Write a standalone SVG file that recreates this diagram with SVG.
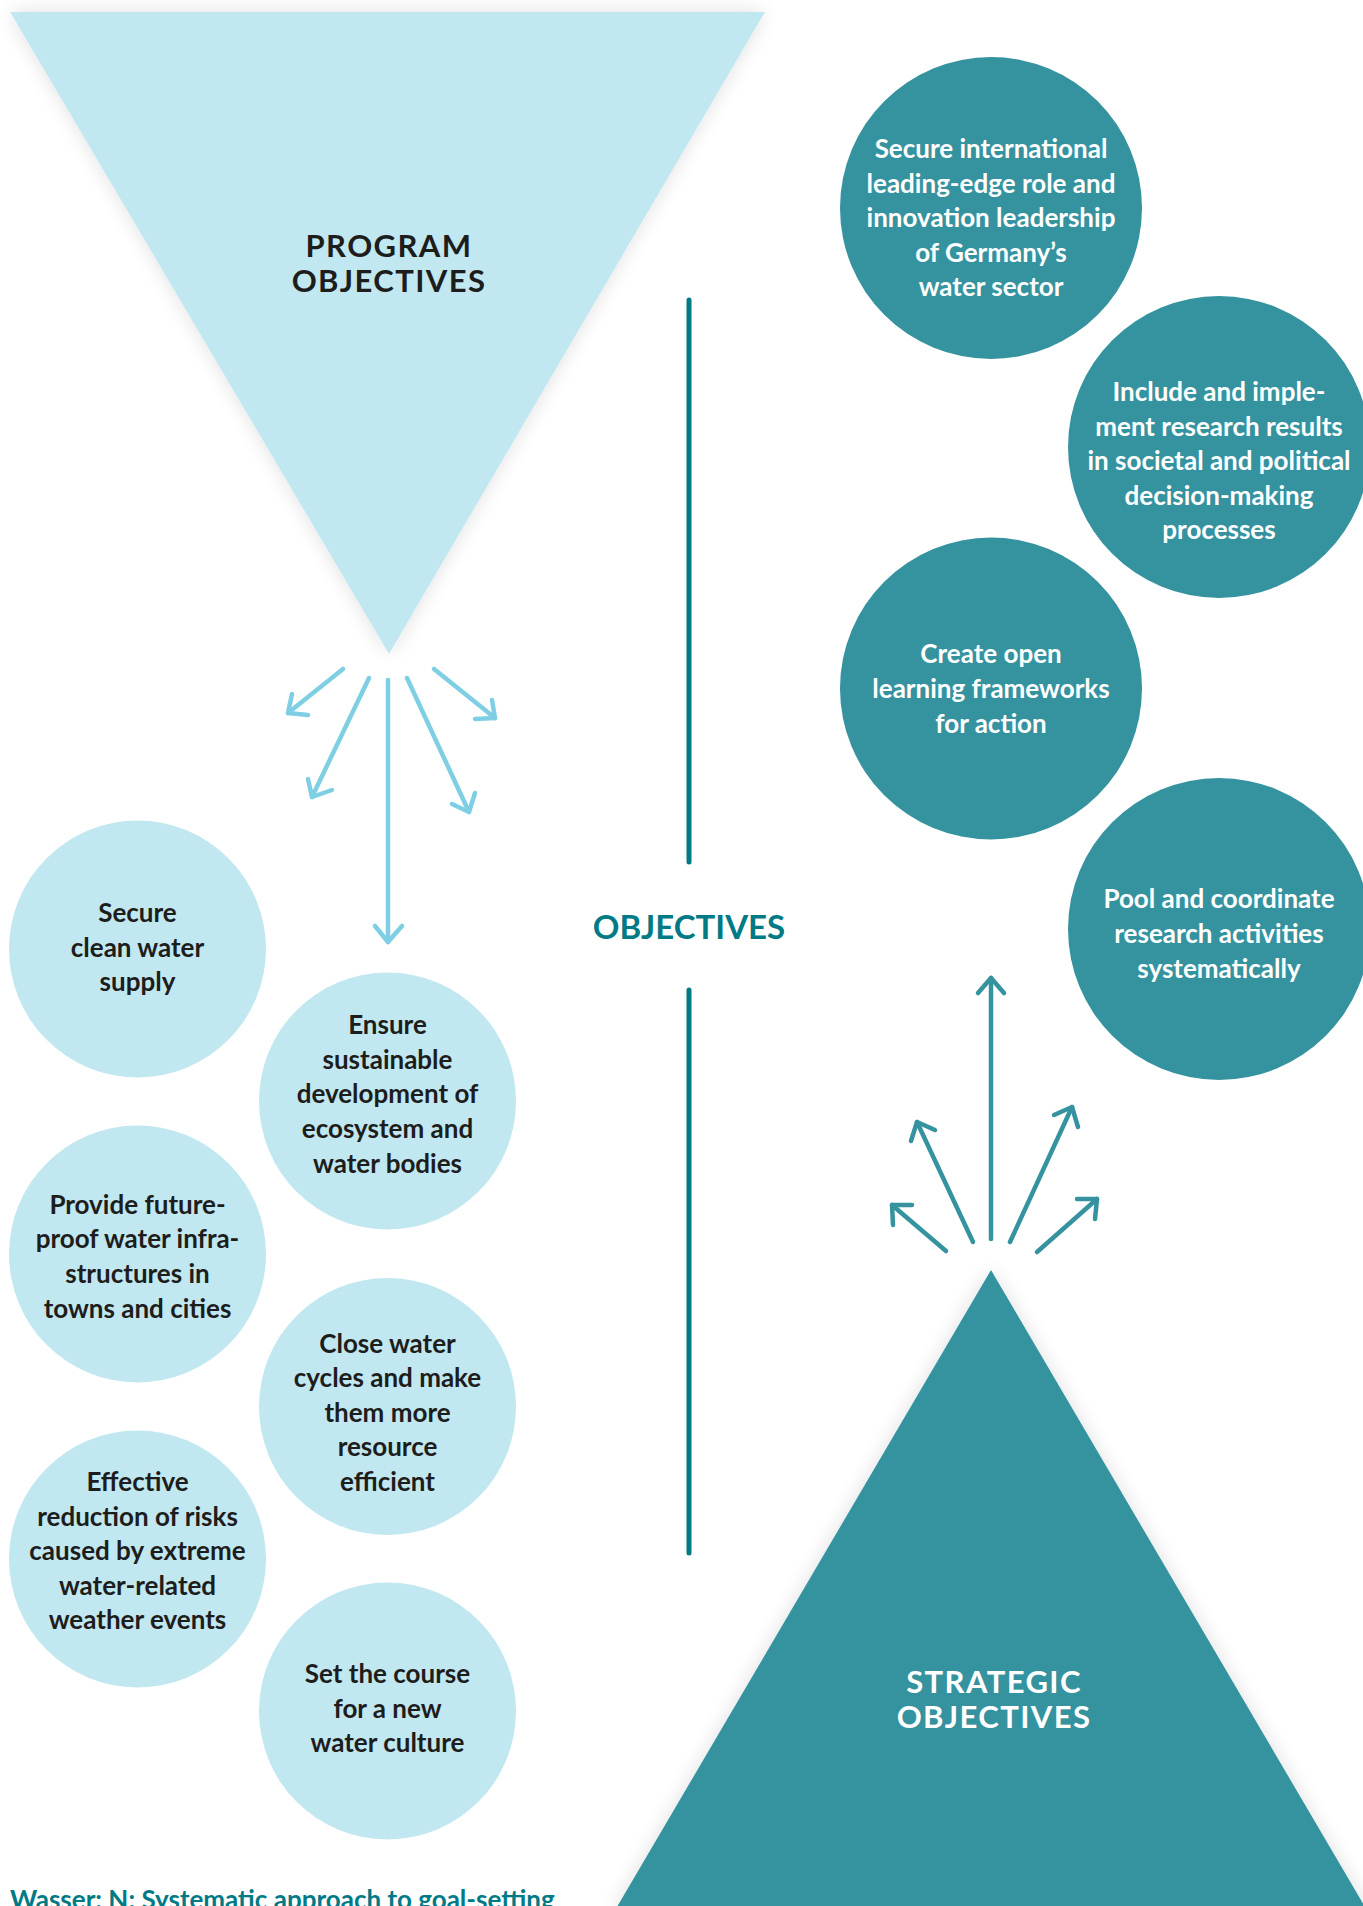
<svg xmlns="http://www.w3.org/2000/svg" width="1363" height="1906" viewBox="0 0 1363 1906">
<defs>
<filter id="sh" x="-15%" y="-15%" width="130%" height="130%">
<feGaussianBlur in="SourceAlpha" stdDeviation="10"/>
<feComponentTransfer><feFuncA type="linear" slope="0.13"/></feComponentTransfer>
<feMerge><feMergeNode/><feMergeNode in="SourceGraphic"/></feMerge>
</filter>
</defs>
<style>
.lt{fill:#c1e7f0}
.dk{fill:#3593a0}
.t{font-family:Lato,"Open Sans","Noto Sans",sans-serif;font-weight:bold;font-size:26px;text-anchor:middle}
.td{fill:#1d1d1b}
.tw{fill:#ffffff}
.big{font-family:Lato,"Open Sans","Noto Sans",sans-serif;font-weight:bold;font-size:31px;letter-spacing:1.4px;text-anchor:middle}
.la{fill:none;stroke:#7fcfe4;stroke-width:4.5;stroke-linecap:round;stroke-linejoin:round}
.da{fill:none;stroke:#3593a0;stroke-width:4.5;stroke-linecap:round;stroke-linejoin:round}
.vl{stroke:#007a85;stroke-width:5;stroke-linecap:round}
</style>
<rect width="1363" height="1906" fill="#ffffff"/>

<g id="program-objectives">
<polygon class="lt" points="10,12 765,12 389,654" filter="url(#sh)"/>
<text class="big td" x="389" y="257">PROGRAM</text>
<text class="big td" x="389" y="291.5">OBJECTIVES</text>
</g>

<g id="strategic-objectives">
<polygon class="dk" points="991,1270 614,1912 1368,1912" filter="url(#sh)"/>
<text class="big tw" x="994" y="1693">STRATEGIC</text>
<text class="big tw" x="994" y="1728">OBJECTIVES</text>
</g>

<g id="objectives-label">
<text x="689" y="939" font-family="Lato,'Open Sans','Noto Sans',sans-serif" font-weight="bold" font-size="33" text-anchor="middle" fill="#007a85">OBJECTIVES</text>
</g>

<g id="connectors">
<line class="vl" x1="689" y1="300" x2="689" y2="862"/>
<line class="vl" x1="689" y1="990" x2="689" y2="1553"/>
<line class="la" x1="343" y1="669" x2="288" y2="713"/><polyline class="la" points="292,694 288,713 308,715"/>
<line class="la" x1="369" y1="678" x2="312" y2="797"/><polyline class="la" points="308,779 312,797 332,790"/>
<line class="la" x1="388" y1="680" x2="388" y2="942"/><polyline class="la" points="375,926 388,942 402,926"/>
<line class="la" x1="407" y1="678" x2="469" y2="812"/><polyline class="la" points="452,804 469,812 475,793"/>
<line class="la" x1="434" y1="669" x2="495" y2="718"/><polyline class="la" points="492,700 495,718 475,719"/>
<line class="da" x1="991" y1="1239" x2="991" y2="978"/><polyline class="da" points="978,993 991,978 1004,993"/>
<line class="da" x1="973" y1="1242" x2="917" y2="1122"/><polyline class="da" points="911,1141 917,1122 935,1130"/>
<line class="da" x1="946" y1="1251" x2="892" y2="1205"/><polyline class="da" points="893,1225 892,1205 912,1205"/>
<line class="da" x1="1010" y1="1242" x2="1072" y2="1107"/><polyline class="da" points="1054,1115 1072,1107 1078,1127"/>
<line class="da" x1="1037" y1="1252" x2="1097" y2="1199"/><polyline class="da" points="1077,1199 1097,1199 1095,1219"/>
</g>

<g id="s1">
<circle class="dk" cx="991" cy="208" r="151"/>
<text class="t tw" x="991" y="158">Secure international</text>
<text class="t tw" x="991" y="193">leading-edge role and</text>
<text class="t tw" x="991" y="227">innovation leadership</text>
<text class="t tw" x="991" y="262">of Germany’s</text>
<text class="t tw" x="991" y="296">water sector</text>
</g>
<g id="s2">
<circle class="dk" cx="1219" cy="447" r="151"/>
<text class="t tw" x="1219" y="401">Include and imple-</text>
<text class="t tw" x="1219" y="435.5">ment research results</text>
<text class="t tw" x="1219" y="470">in societal and political</text>
<text class="t tw" x="1219" y="504.5">decision-making</text>
<text class="t tw" x="1219" y="539">processes</text>
</g>
<g id="s3">
<circle class="dk" cx="991" cy="688.5" r="151"/>
<text class="t tw" x="991" y="663">Create open</text>
<text class="t tw" x="991" y="697.5">learning frameworks</text>
<text class="t tw" x="991" y="732.5">for action</text>
</g>
<g id="s4">
<circle class="dk" cx="1219" cy="929" r="151"/>
<text class="t tw" x="1219" y="908">Pool and coordinate</text>
<text class="t tw" x="1219" y="943">research activities</text>
<text class="t tw" x="1219" y="978">systematically</text>
</g>

<g id="p1">
<circle class="lt" cx="137.5" cy="949" r="128.5"/>
<text class="t td" x="137.5" y="922">Secure</text>
<text class="t td" x="137.5" y="957">clean water</text>
<text class="t td" x="137.5" y="991">supply</text>
</g>
<g id="p2">
<circle class="lt" cx="387.5" cy="1101" r="128.5"/>
<text class="t td" x="387.5" y="1034">Ensure</text>
<text class="t td" x="387.5" y="1068.5">sustainable</text>
<text class="t td" x="387.5" y="1103">development of</text>
<text class="t td" x="387.5" y="1138">ecosystem and</text>
<text class="t td" x="387.5" y="1172.5">water bodies</text>
</g>
<g id="p3">
<circle class="lt" cx="137.5" cy="1254" r="128.5"/>
<text class="t td" x="137.5" y="1214">Provide future-</text>
<text class="t td" x="137.5" y="1248">proof water infra-</text>
<text class="t td" x="137.5" y="1282.5">structures in</text>
<text class="t td" x="137.5" y="1317.5">towns and cities</text>
</g>
<g id="p4">
<circle class="lt" cx="387.5" cy="1406.5" r="128.5"/>
<text class="t td" x="387.5" y="1353">Close water</text>
<text class="t td" x="387.5" y="1387">cycles and make</text>
<text class="t td" x="387.5" y="1421.5">them more</text>
<text class="t td" x="387.5" y="1456">resource</text>
<text class="t td" x="387.5" y="1490.5">efficient</text>
</g>
<g id="p5">
<circle class="lt" cx="137.5" cy="1559" r="128.5"/>
<text class="t td" x="137.5" y="1491">Effective</text>
<text class="t td" x="137.5" y="1525.5">reduction of risks</text>
<text class="t td" x="137.5" y="1560">caused by extreme</text>
<text class="t td" x="137.5" y="1594.5">water-related</text>
<text class="t td" x="137.5" y="1629">weather events</text>
</g>
<g id="p6">
<circle class="lt" cx="387.5" cy="1711" r="128.5"/>
<text class="t td" x="387.5" y="1683">Set the course</text>
<text class="t td" x="387.5" y="1717.5">for a new</text>
<text class="t td" x="387.5" y="1752">water culture</text>
</g>

<g id="caption">
<text x="10" y="1909" font-family="Lato,'Open Sans','Noto Sans',sans-serif" font-weight="bold" font-size="26" fill="#007a85">Wasser: N: Systematic approach to goal-setting</text>
</g>
</svg>
